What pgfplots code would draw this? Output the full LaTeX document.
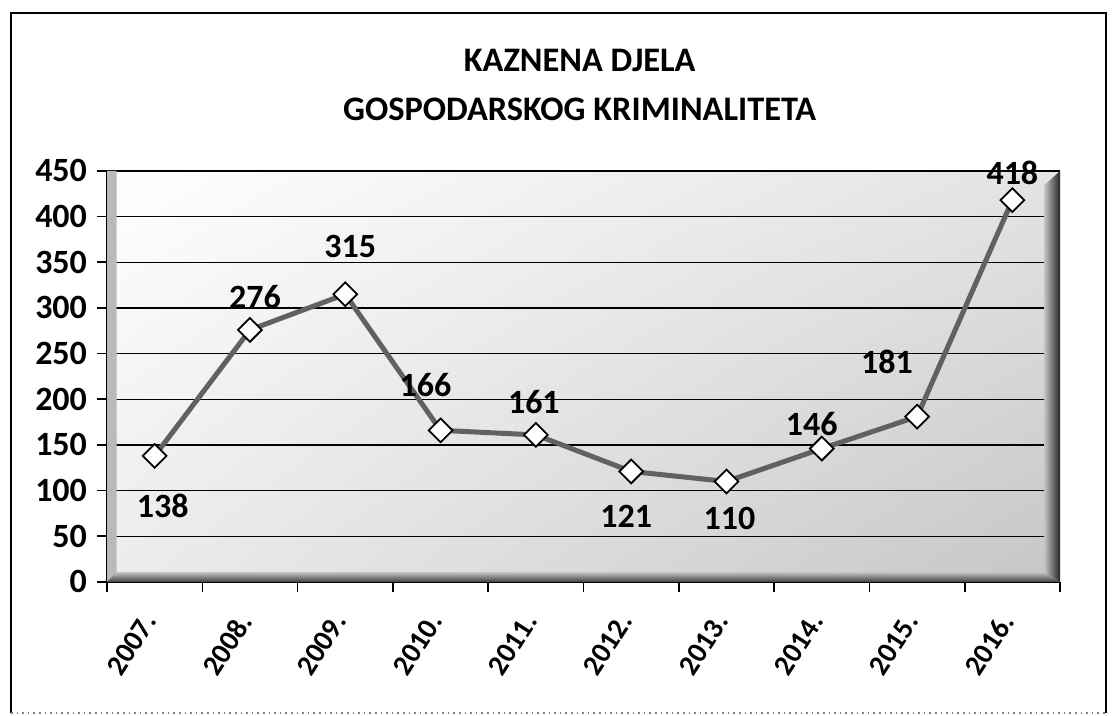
\documentclass[border=0pt]{standalone}
\usepackage{fontspec}
\setmainfont{Carlito}
\usepackage{pgfplots}
\pgfplotsset{compat=1.18}
\usepackage{pgfplotstable}
\usetikzlibrary{shadings}

% year, value, label offset (pt)
\pgfplotstableread{
x y offx offy
0 138 4 -25
1 276 2.5 16.5
2 315 2.5 24
3 166 -7.5 22.5
4 161 -1 16.5
5 121 -2.5 -22.5
6 110 1.5 -18.5
7 146 -5 12.5
8 181 -15 27.5
9 418 0 13.5
}\kdata

\newcommand{\lbl}{\fontsize{17}{20}\selectfont\bfseries}

\begin{document}
\begin{tikzpicture}
\begin{axis}[
  scale only axis,
  width=476.5pt, height=205.5pt,
  xmin=-0.5, xmax=9.5, ymin=0, ymax=450,
  axis x line*=bottom, axis y line*=left,
  axis line style={black, line width=0.8pt, -},
  clip=false,
  xtick={0,...,9},
  xticklabels={{2007.},{2008.},{2009.},{2010.},{2011.},{2012.},{2013.},{2014.},{2015.},{2016.}},
  major x tick style={draw=none},
  minor xtick={-0.5,0.5,...,9.5},
  minor tick length=5pt,
  minor x tick style={black, line width=0.8pt},
  ytick={0,50,...,450},
  tick align=outside,
  major tick length=5pt,
  y tick style={black, line width=0.8pt},
  ymajorgrids,
  grid style={black, line width=0.7pt},
  /pgf/number format/assume math mode=true,
  yticklabel style={font=\lbl, xshift=-1.5pt},
  xticklabel style={font=\fontsize{14.5}{17}\selectfont\bfseries,
    rotate=57, anchor=east, yshift=-4.5pt, xshift=-8pt},
  title={KAZNENA DJELA\\[3pt]GOSPODARSKOG KRIMINALITETA},
  title style={at={(0.496,1.18)}, anchor=center, align=center,
    font=\fontsize{17.2}{21.5}\selectfont\bfseries},
  axis background/.style={shade, upper left=white, upper right=gray!22,
    lower left=gray!15, lower right=gray!45},
]
  % floor and side walls of the 3D plot area
  \fill[gray!55] (axis cs:-0.5,0) -- (axis cs:-0.5,450) -- (axis cs:-0.399,450) -- (axis cs:-0.399,10.95) -- cycle;
  \shade[left color=gray!50, right color=black!85]
    (axis cs:9.339,10.95) -- (axis cs:9.339,434.7) -- (axis cs:9.5,450) -- (axis cs:9.5,0) -- cycle;
  \shade[top color=gray!45, bottom color=black!75]
    (axis cs:-0.5,0) -- (axis cs:-0.399,10.95) -- (axis cs:9.339,10.95) -- (axis cs:9.5,0) -- cycle;

  \addplot[color=black!62, line width=2.5pt,
    mark=square*, mark options={rotate=45, fill=white, draw=black, line width=0.9pt, mark size=4.2pt},
    nodes near coords,
    visualization depends on={\thisrow{offx} \as \offx},
    visualization depends on={\thisrow{offy} \as \offy},
    every node near coord/.style={anchor=center, font=\lbl, text=black,
      xshift=\offx pt, yshift=\offy pt},
  ] table[x=x, y=y] {\kdata};

  \coordinate (bl) at (rel axis cs:-0.1123,-0.326);
  \coordinate (tr) at (rel axis cs:1.0619,1.416);
  \coordinate (fbl) at (rel axis cs:-0.1007,-0.3187);
  \coordinate (ftr) at (rel axis cs:1.0483,1.3844);
\end{axis}
\draw[black, line width=0.8pt] (fbl) -- (fbl |- ftr) -- (ftr) -- (ftr |- fbl);
\draw[gray, dotted, line width=0.8pt] (fbl) -- (ftr |- fbl);
\pgfresetboundingbox
\path (bl) rectangle (tr);
\end{tikzpicture}
\end{document}
